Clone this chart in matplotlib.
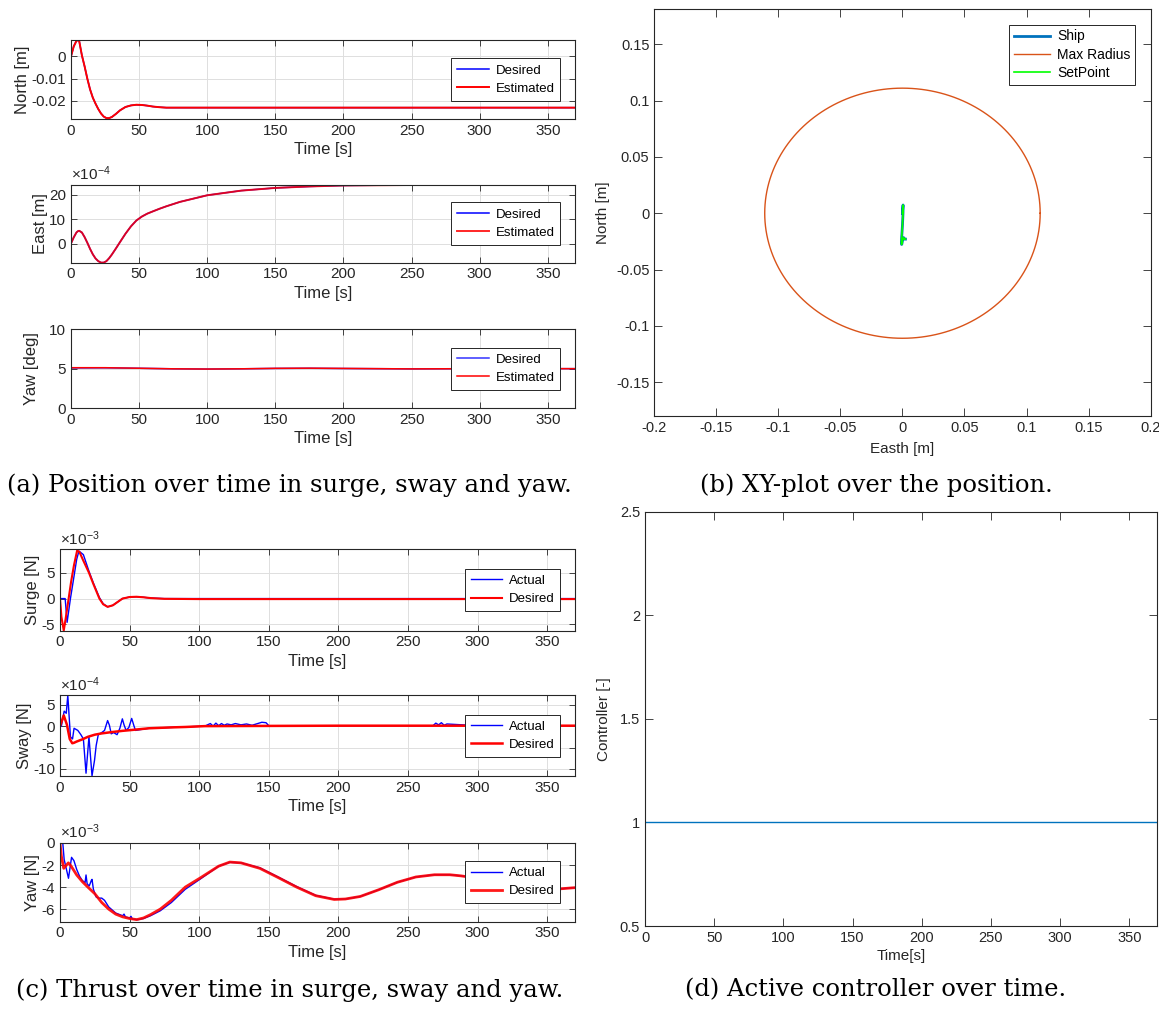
import matplotlib
matplotlib.use("Agg")
import matplotlib.pyplot as plt
from matplotlib.ticker import FuncFormatter, FixedLocator
import numpy as np

plt.rcParams["font.family"] = ["Liberation Sans", "DejaVu Sans"]
plt.rcParams["mathtext.fontset"] = "custom"
plt.rcParams["mathtext.rm"] = "Liberation Sans"
plt.rcParams["mathtext.it"] = "Liberation Sans:italic"

TXT = "#262626"

# ---------------- data ----------------
# (a) position, common time base
t_pos = [0, 2, 4, 5, 6, 8, 10, 12, 14, 16, 18, 20, 22, 24, 26, 28, 30, 33, 36, 40,
         44, 48, 52, 56, 60, 65, 70, 80, 100, 125, 150, 175, 200, 250, 300, 370]
north_desired = [0.0, 0.0045, 0.0070, 0.0073, 0.0070, 0.0005, -0.0045, -0.0100, -0.0148,
                 -0.0185, -0.0212, -0.0236, -0.0256, -0.0270, -0.0277, -0.0277, -0.0272,
                 -0.0258, -0.0242, -0.0227, -0.0220, -0.0217, -0.0218, -0.0221, -0.0225,
                 -0.0228, -0.0230, -0.0230, -0.0230, -0.0230, -0.0230, -0.0230, -0.0230,
                 -0.0230, -0.0230, -0.0230]
north_estimated = list(north_desired)
east_desired = [0.0, 2.5e-4, 4.5e-4, 5.0e-4, 5.2e-4, 4.5e-4, 2.6e-4, 0.3e-4, -2.2e-4,
                -4.4e-4, -6.1e-4, -7.2e-4, -7.8e-4, -7.8e-4, -7.2e-4, -6.0e-4, -4.5e-4,
                -2.0e-4, 0.6e-4, 4.0e-4, 7.0e-4, 9.4e-4, 11.0e-4, 12.2e-4, 13.1e-4,
                14.2e-4, 15.2e-4, 17.0e-4, 19.7e-4, 21.6e-4, 22.7e-4, 23.3e-4, 23.7e-4,
                23.9e-4, 24.0e-4, 24.0e-4]
east_estimated = list(east_desired)

t_yaw = [0, 25, 50, 75, 100, 125, 150, 175, 200, 250, 300, 370]
yaw_desired = [5.08, 5.10, 5.05, 4.98, 4.95, 4.98, 5.03, 5.05, 5.02, 4.97, 5.0, 5.0]
yaw_estimated = [5.12, 5.12, 5.05, 4.98, 4.95, 4.98, 5.04, 5.06, 5.03, 4.97, 5.0, 5.0]

# (c) thrust
t_surge_des = [0, 1, 2.7, 4, 6.2, 8, 10, 12.3, 14, 17, 20.8, 24, 28.3, 31, 34.2, 38,
               44.9, 50, 55, 60, 65, 75, 100, 370]
surge_des = [0, -3.5e-3, -6.2e-3, -4.0e-3, 0, 3.3e-3, 6.4e-3, 9.3e-3, 9.0e-3, 7.2e-3,
             5.0e-3, 2.8e-3, 0, -1.1e-3, -1.6e-3, -1.3e-3, 0, 0.3e-3, 0.35e-3, 0.25e-3,
             0.1e-3, -0.05e-3, -0.1e-3, -0.1e-3]
t_surge_act = [0, 3.7, 5.1, 7.5, 10, 12, 13.6, 16.8, 20.8, 24, 28.3, 31, 34.2, 38, 44.9,
               50, 55, 60, 65, 75, 100, 370]
surge_act = [0, 0, -4.6e-3, 0, 4.2e-3, 7.6e-3, 9.2e-3, 8.5e-3, 5.3e-3, 3.0e-3, 0.2e-3,
             -1.0e-3, -1.6e-3, -1.3e-3, 0, 0.3e-3, 0.35e-3, 0.25e-3, 0.1e-3, 0, 0, 0]

t_sway_des = [0, 2.7, 5, 7, 8.8, 10, 12, 16, 20, 25, 30, 37, 45, 50, 64, 80, 90, 104,
              150, 200, 370]
sway_des = [0, 2.5e-4, 0.3e-4, -3.0e-4, -4.0e-4, -3.9e-4, -3.6e-4, -3.1e-4, -2.5e-4,
            -2.0e-4, -1.7e-4, -1.4e-4, -1.1e-4, -0.95e-4, -0.5e-4, -0.3e-4, -0.2e-4, 0,
            0.05e-4, 0.1e-4, 0.1e-4]
t_sway_act = [0, 1, 3, 4.5, 5.6, 7.5, 9, 10.1, 12.8, 15, 16.8, 18.7, 20.8, 23, 24.8, 26,
              27.5, 30, 32, 34.2, 35.5, 36.8, 38.5, 41, 43, 44.8, 46, 47.5, 49.5, 51.5,
              53, 54.2, 58, 64, 80, 104, 108, 110, 112, 114, 116, 118, 120, 123, 126,
              130, 134, 138, 142, 145, 148, 150, 200, 268, 270, 272, 274, 276, 278,
              300, 370]
sway_act = [0, 0, 3.5e-4, 3.0e-4, 7.2e-4, -2.5e-4, -3.0e-4, -0.5e-4, -1.0e-4, -2.0e-4,
            -3.0e-4, -11.0e-4, -2.5e-4, -11.6e-4, -8.0e-4, -4.5e-4, -2.0e-4, -1.5e-4,
            -1.0e-4, 1.3e-4, 0.2e-4, -1.8e-4, -1.5e-4, -2.0e-4, -0.5e-4, 1.7e-4, 0.3e-4,
            -1.0e-4, -0.3e-4, 1.8e-4, 0.2e-4, -1.0e-4, -0.8e-4, -0.5e-4, -0.3e-4, 0,
            0.6e-4, 0, 0.7e-4, 0.1e-4, 0.6e-4, 0.2e-4, 0.5e-4, 0.3e-4, 0.6e-4, 0.3e-4,
            0.5e-4, 0.2e-4, 0.6e-4, 0.9e-4, 0.8e-4, 0.1e-4, 0.1e-4, 0.1e-4, 0.7e-4,
            0.3e-4, 0.8e-4, 0.2e-4, 0.5e-4, 0.1e-4, 0.1e-4]

t_yawN_des = [0, 1, 2.7, 4, 6, 8, 12, 16, 20, 25, 30, 35, 40, 45, 50, 55, 60, 65, 72,
              80, 90, 101, 114, 122, 130, 143.6, 157, 170, 183.7, 197, 205, 215.7, 229,
              242.4, 255.7, 269, 280, 288, 300, 320, 340, 355, 370]
yawN_des = [0, -1.2, -2.3, -2.1, -1.8, -2.1, -2.9, -3.5, -4.0, -4.6, -5.4, -6.0, -6.45,
            -6.7, -6.85, -6.95, -6.8, -6.5, -6.0, -5.2, -4.0, -3.15, -2.1, -1.73, -1.8,
            -2.3, -3.15, -4.0, -4.78, -5.12, -5.08, -4.85, -4.24, -3.56, -3.08, -2.88,
            -2.88, -2.98, -3.2, -3.7, -4.1, -4.2, -4.05]
t_yawN_act = [0, 2, 3, 6.1, 8.3, 10, 12, 14, 16, 18, 18.7, 19.5, 21, 22.5, 23, 24, 26,
              28, 30, 32, 35, 40, 45, 46, 47, 50, 51, 52, 56, 60, 65, 72, 80, 90, 101,
              114, 122, 130, 143.6, 157, 170, 183.7, 197, 205, 215.7, 229, 242.4, 255.7,
              269, 280, 288, 300, 320, 340, 355, 370]
yawN_act = [0, 0, -1.5, -3.2, -1.3, -1.6, -2.4, -3.0, -3.4, -3.6, -2.9, -3.7, -3.9, -3.4,
            -3.3, -4.2, -4.9, -5.0, -5.0, -5.2, -5.8, -6.35, -6.6, -6.45, -6.7, -6.8,
            -6.65, -6.9, -6.95, -6.85, -6.6, -6.15, -5.4, -4.2, -3.25, -2.1, -1.75,
            -1.8, -2.25, -3.1, -3.95, -4.75, -5.1, -5.08, -4.85, -4.24, -3.56, -3.08,
            -2.88, -2.88, -2.98, -3.2, -3.7, -4.1, -4.2, -4.05]
yawN_des = [v * 1e-3 for v in yawN_des]
yawN_act = [v * 1e-3 for v in yawN_act]

# (b) operating radius
max_radius = 0.111

# (d) active controller
t_ctrl = [0, 370]
controller = [1, 1]

time_ticks = [0, 50, 100, 150, 200, 250, 300, 350]

# ---------------- figure ----------------
W, H = 1159, 1009
fig = plt.figure(figsize=(W / 100, H / 100), dpi=100)


def add_axes(left, right, top, bottom):
    return fig.add_axes([left / W, 1 - bottom / H, (right - left) / W, (bottom - top) / H])


def style(ax, fs, grid):
    for s in ax.spines.values():
        s.set_color(TXT)
        s.set_linewidth(0.8)
    ax.tick_params(direction="in", top=True, right=True, length=4, width=0.6,
                   colors=TXT, labelsize=fs, labelcolor=TXT)
    if grid:
        ax.grid(True, color="#dedede", linewidth=0.7)
        ax.set_axisbelow(True)


def legend(ax, labels, fs=9.5):
    lg = ax.legend(labels, loc="center right", fontsize=fs, fancybox=False,
                   framealpha=1, edgecolor=TXT, borderaxespad=1.1, handlelength=2.4,
                   borderpad=0.45, labelspacing=0.45, handletextpad=0.5)
    lg.get_frame().set_linewidth(0.7)
    for t in lg.get_texts():
        t.set_color("black")


def exp_label(ax, exp, fmt="{:g}"):
    scale = 10.0 ** exp
    ax.yaxis.set_major_formatter(FuncFormatter(lambda v, p: fmt.format(round(v / scale, 6))))
    ax.text(0.0, 1.02, "×10$^{%d}$" % exp, transform=ax.transAxes, fontsize=11,
            color=TXT, ha="left", va="bottom")


def time_axis(ax, fs=10.5):
    ax.set_xlim(0, 370)
    ax.xaxis.set_major_locator(FixedLocator(time_ticks))
    ax.set_xlabel("Time [s]", fontsize=12, color=TXT, labelpad=3)


BLUE, RED = "#0000FF", "#FF0000"

# (a) North
ax = add_axes(71, 575, 40, 119)
ax.plot(t_pos, north_desired, color=BLUE, lw=1.1)
ax.plot(t_pos, north_estimated, color=RED, lw=1.4)
ax.set_ylim(-0.0281, 0.0074)
ax.set_yticks([-0.02, -0.01, 0])
ax.yaxis.set_major_formatter(FuncFormatter(lambda v, p: "0" if abs(v) < 1e-9 else f"{v:g}"))
time_axis(ax)
ax.set_ylabel("North [m]", fontsize=12, color=TXT, labelpad=1)
style(ax, 11, True)
legend(ax, ["Desired", "Estimated"])

# (a) East
ax = add_axes(71, 575, 184.5, 262.6)
ax.plot(t_pos, east_desired, color=BLUE, lw=1.1)
ax.plot(t_pos, east_estimated, color=RED, lw=1.4, alpha=0.85)
ax.set_ylim(-7.8e-4, 24.1e-4)
ax.set_yticks([0, 10e-4, 20e-4])
exp_label(ax, -4)
time_axis(ax)
ax.set_ylabel("East [m]", fontsize=12, color=TXT, labelpad=1)
style(ax, 11, True)
legend(ax, ["Desired", "Estimated"])

# (a) Yaw
ax = add_axes(71, 575, 329.3, 408)
ax.plot(t_yaw, yaw_desired, color=BLUE, lw=1.1, alpha=0.8)
ax.plot(t_yaw, yaw_estimated, color=RED, lw=1.1)
ax.set_ylim(0, 10)
ax.set_yticks([0, 5, 10])
time_axis(ax)
ax.set_ylabel("Yaw [deg]", fontsize=12, color=TXT, labelpad=7)
style(ax, 11, True)
legend(ax, ["Desired", "Estimated"])

# (c) Surge
ax = add_axes(60, 575, 549.5, 630.6)
ax.plot(t_surge_act, surge_act, color=BLUE, lw=1.0)
ax.plot(t_surge_des, surge_des, color=RED, lw=1.5)
ax.set_ylim(-6.2e-3, 9.5e-3)
ax.set_yticks([-5e-3, 0, 5e-3])
exp_label(ax, -3)
time_axis(ax)
ax.set_ylabel("Surge [N]", fontsize=12, color=TXT, labelpad=1)
style(ax, 11, True)
legend(ax, ["Actual", "Desired"])

# (c) Sway
ax = add_axes(60, 575, 695.3, 776)
ax.plot(t_sway_act, sway_act, color=BLUE, lw=1.0)
ax.plot(t_sway_des, sway_des, color=RED, lw=1.8)
ax.set_ylim(-11.65e-4, 7.2e-4)
ax.set_yticks([-10e-4, -5e-4, 0, 5e-4])
exp_label(ax, -4)
time_axis(ax)
ax.set_ylabel("Sway [N]", fontsize=12, color=TXT, labelpad=1)
style(ax, 11, True)
legend(ax, ["Actual", "Desired"])

# (c) Yaw
ax = add_axes(60, 575, 843, 921.5)
ax.plot(t_yawN_act, yawN_act, color=BLUE, lw=1.0)
ax.plot(t_yawN_des, yawN_des, color=RED, lw=2.0, alpha=0.9)
ax.set_ylim(-7.12e-3, 0)
ax.set_yticks([-6e-3, -4e-3, -2e-3, 0])
exp_label(ax, -3)
time_axis(ax)
ax.set_ylabel("Yaw [N]", fontsize=12, color=TXT, labelpad=1)
style(ax, 11, True)
legend(ax, ["Actual", "Desired"])

# (b) XY plot
ax = add_axes(654.3, 1150.6, 9.3, 416)
theta = np.linspace(0, 2 * np.pi, 361)
ax.plot(east_estimated, north_estimated, color="#0072BD", lw=2.0, label="Ship")
ax.plot(max_radius * np.cos(theta), max_radius * np.sin(theta), color="#D95319",
        lw=1.0, label="Max Radius")
ax.plot(east_desired, north_desired, color="#00FF00", lw=1.2, label="SetPoint")
ax.set_xlim(-0.2, 0.2)
ax.set_ylim(-0.18, 0.181)
ax.set_xticks(np.round(np.arange(-0.2, 0.2001, 0.05), 2))
ax.set_yticks(np.round(np.arange(-0.15, 0.1501, 0.05), 2))
fmt = FuncFormatter(lambda v, p: "0" if abs(v) < 1e-9 else f"{v:g}")
ax.xaxis.set_major_formatter(fmt)
ax.yaxis.set_major_formatter(fmt)
ax.set_xlabel("Easth [m]", fontsize=11, color=TXT, labelpad=5)
ax.set_ylabel("North [m]", fontsize=11, color=TXT, labelpad=4)
style(ax, 10.5, False)
ax.tick_params(length=6)
lg = ax.legend(loc="upper right", fontsize=10, fancybox=False, framealpha=1,
               edgecolor=TXT, borderaxespad=1.1, handlelength=2.6, borderpad=0.35,
               labelspacing=0.3, handletextpad=0.5)
lg.get_frame().set_linewidth(0.7)

# (d) active controller
ax = add_axes(645, 1157, 511.6, 926)
ax.plot(t_ctrl, controller, color="#0072BD", lw=1.0)
ax.set_xlim(0, 370)
ax.set_ylim(0.5, 2.5)
ax.set_xticks(time_ticks)
ax.set_yticks([0.5, 1, 1.5, 2, 2.5])
ax.yaxis.set_major_formatter(FuncFormatter(lambda v, p: f"{v:g}"))
ax.set_xlabel("Time[s]", fontsize=11, color=TXT, labelpad=3)
ax.set_ylabel("Controller [-]", fontsize=11, color=TXT, labelpad=6)
style(ax, 10.5, False)
ax.tick_params(length=6)

# captions
cap = dict(fontsize=17.5, family=["DejaVu Serif"], color="black",
           ha="center", va="center")
fig.text(289 / W, 1 - 485 / H, "(a) Position over time in surge, sway and yaw.", **cap)
fig.text(876 / W, 1 - 485 / H, "(b) XY-plot over the position.", **cap)
fig.text(290 / W, 1 - 990 / H, "(c) Thrust over time in surge, sway and yaw.", **cap)
fig.text(876 / W, 1 - 990 / H, "(d) Active controller over time.", **cap)

fig.savefig("out.png", dpi=100)
